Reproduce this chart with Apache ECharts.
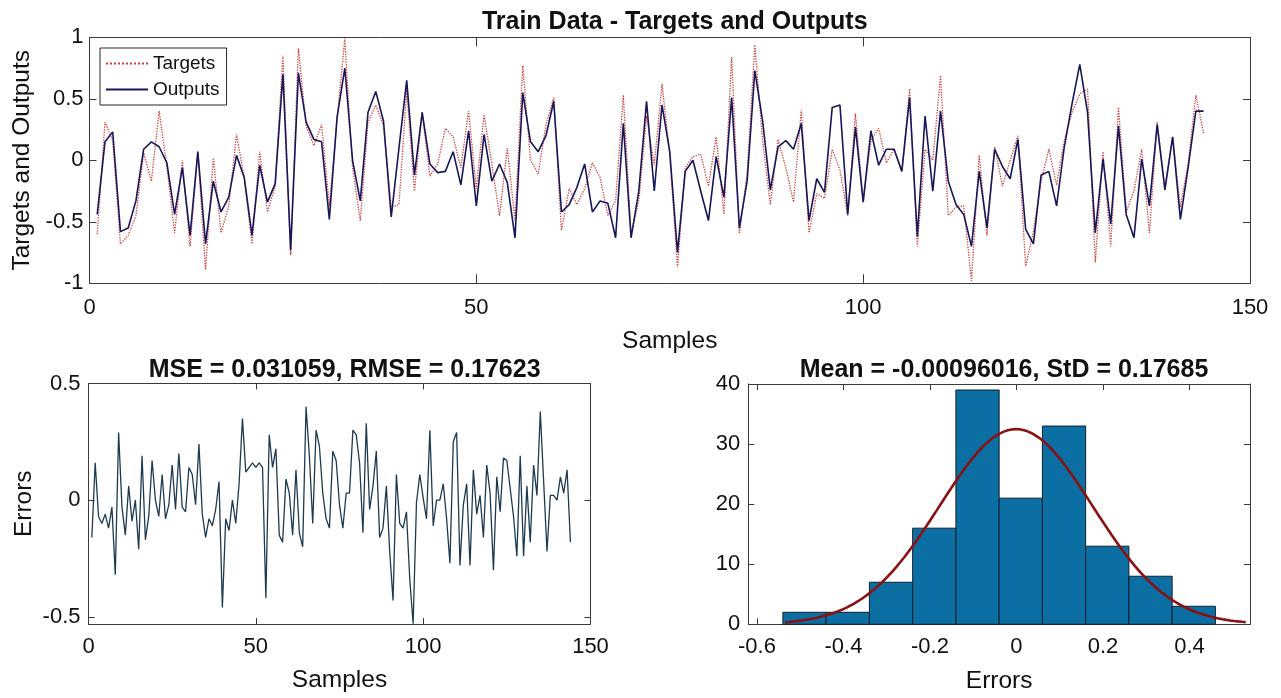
<!DOCTYPE html>
<html>
<head>
<meta charset="utf-8">
<script src="https://cdn.jsdelivr.net/npm/echarts@6/dist/echarts.min.js"></script>
<style>
  html, body { margin: 0; padding: 0; background: #ffffff; }
  #chart { width: 1281px; height: 698px; }
</style>
</head>
<body>
<div id="chart"></div>
<script>
// Network outputs for the 144 training samples
const outputs = [
  -0.44, 0.15, 0.23, -0.58, -0.55, -0.33, 0.09, 0.15, 0.11, -0.02,
  -0.44, -0.06, -0.61, 0.07, -0.68, -0.17, -0.42, -0.30, 0.04, -0.14,
  -0.61, -0.04, -0.34, -0.19, 0.70, -0.73, 0.71, 0.31, 0.17, 0.15,
  -0.48, 0.35, 0.75, 0.00, -0.33, 0.39, 0.56, 0.32, -0.46, 0.10,
  0.65, -0.12, 0.39, -0.03, -0.10, -0.09, 0.07, -0.20, 0.24, -0.37,
  0.21, -0.17, -0.03, -0.18, -0.63, 0.55, 0.15, 0.07, 0.20, 0.48,
  -0.42, -0.36, -0.22, -0.03, -0.42, -0.33, -0.35, -0.63, 0.30, -0.63,
  -0.25, 0.48, -0.25, 0.45, 0.07, -0.75, -0.09, 0.00, -0.25, -0.49,
  0.03, -0.30, 0.51, -0.55, -0.17, 0.73, 0.32, -0.24, 0.11, 0.16,
  0.09, 0.30, -0.49, -0.15, -0.26, 0.43, 0.45, -0.44, 0.27, -0.34,
  0.24, -0.04, 0.09, 0.09, -0.09, 0.51, -0.62, 0.36, -0.25, 0.40,
  -0.17, -0.36, -0.44, -0.70, -0.09, -0.55, 0.09, -0.05, -0.15, 0.17,
  -0.56, -0.68, -0.12, -0.09, -0.37, 0.11, 0.46, 0.78, 0.39, -0.59,
  0.01, -0.52, 0.28, -0.44, -0.63, 0.01, -0.37, 0.29, -0.24, 0.19,
  -0.48, -0.06, 0.40, 0.40
];

// Target values for the same samples
const targets = [
  -0.60, 0.31, 0.16, -0.68, -0.61, -0.45, 0.06, -0.17, 0.40, -0.05,
  -0.59, 0.00, -0.70, 0.07, -0.89, 0.02, -0.59, -0.37, 0.21, -0.14,
  -0.68, 0.07, -0.42, -0.21, 0.85, -0.77, 0.91, 0.28, 0.12, 0.29,
  -0.37, 0.33, 0.99, -0.06, -0.49, 0.31, 0.45, 0.28, -0.38, -0.36,
  0.57, -0.25, 0.39, -0.13, -0.03, 0.26, 0.19, -0.06, 0.40, -0.23,
  0.37, -0.03, -0.45, 0.10, -0.49, 0.77, 0.00, -0.11, 0.29, 0.51,
  -0.57, -0.23, -0.36, -0.23, -0.02, -0.14, -0.45, -0.33, 0.53, -0.60,
  -0.33, 0.36, -0.04, 0.62, 0.05, -0.87, -0.06, 0.03, 0.05, -0.21,
  0.19, -0.44, 0.84, -0.59, -0.11, 0.94, 0.16, -0.36, 0.17, -0.06,
  -0.34, 0.41, -0.59, -0.27, -0.31, 0.09, -0.08, -0.45, 0.38, -0.33,
  0.16, 0.26, -0.02, 0.09, -0.09, 0.58, -0.70, 0.09, 0.00, 0.69,
  -0.45, -0.38, -0.37, -0.98, 0.04, -0.61, 0.11, -0.21, 0.00, 0.20,
  -0.86, -0.58, -0.17, 0.09, -0.20, 0.16, 0.39, 0.54, 0.58, -0.83,
  0.07, -0.70, 0.43, -0.42, -0.25, 0.09, -0.59, 0.31, -0.22, 0.19,
  -0.38, -0.03, 0.53, 0.22
];

// Errors (targets minus outputs) per sample
const errors = [
  -0.16, 0.16, -0.07, -0.10, -0.06, -0.12, -0.03, -0.32, 0.29, -0.03,
  -0.15, 0.06, -0.09, 0.00, -0.21, 0.19, -0.17, -0.07, 0.17, 0.00,
  -0.07, 0.11, -0.08, -0.02, 0.15, -0.04, 0.20, -0.03, -0.05, 0.14,
  0.11, -0.02, 0.24, -0.06, -0.16, -0.08, -0.11, -0.04, 0.08, -0.46,
  -0.08, -0.13, 0.00, -0.10, 0.07, 0.35, 0.12, 0.14, 0.16, 0.14,
  0.16, 0.14, -0.42, 0.28, 0.14, 0.22, -0.15, -0.18, 0.09, 0.03,
  -0.15, 0.13, -0.14, -0.20, 0.40, 0.19, -0.10, 0.30, 0.23, 0.03,
  -0.08, -0.12, 0.21, 0.17, -0.02, -0.12, 0.03, 0.03, 0.30, 0.28,
  0.16, -0.14, 0.33, -0.04, 0.06, 0.21, -0.16, -0.12, 0.06, -0.22,
  -0.43, 0.11, -0.10, -0.12, -0.05, -0.34, -0.53, -0.01, 0.11, 0.01,
  -0.08, 0.30, -0.11, 0.00, 0.00, 0.07, -0.08, -0.27, 0.25, 0.29,
  -0.28, -0.02, 0.07, -0.28, 0.13, -0.06, 0.02, -0.16, 0.15, 0.03,
  -0.30, 0.10, -0.05, 0.18, 0.17, 0.05, -0.07, -0.24, 0.19, -0.24,
  0.06, -0.18, 0.15, 0.02, 0.38, 0.08, -0.22, 0.02, 0.02, 0.00,
  0.10, 0.03, 0.13, -0.18
];

// Error histogram: bin edges and counts
const binEdges = [-0.540, -0.440, -0.340, -0.240, -0.140, -0.040, 0.060, 0.160, 0.260, 0.360, 0.460];
const binCounts = [2, 2, 7, 16, 39, 21, 33, 13, 8, 3];

// Summary statistics shown in the panel titles
const mseText = '0.031059';
const rmseText = '0.17623';
const fitMean = -0.00096016;
const fitStd = 0.17685;

// Tick values
const errYTicks = [-0.5, 0, 0.5];
const histXTicks = [-0.6, -0.4, -0.2, 0, 0.2, 0.4];

const FONT = "'Liberation Sans', Arial, Helvetica, sans-serif";
const AXIS_COLOR = '#3a3a3a';
const TEXT_COLOR = '#111111';

const targetsData = targets.map((v, i) => [i + 1, v]);
const outputsData = outputs.map((v, i) => [i + 1, v]);
const errorsData = errors.map((v, i) => [i + 1, v]);
const histData = binCounts.map((c, k) => [binEdges[k], binEdges[k + 1], c]);

// Normal density scaled to the histogram (count per bin)
const nTotal = binCounts.reduce((a, b) => a + b, 0);
const binWidth = binEdges[1] - binEdges[0];
const fitData = [];
for (let k = 0; k <= 120; k++) {
  const x = -0.535 + (1.065 * k) / 120;
  const z = (x - fitMean) / fitStd;
  fitData.push([x, nTotal * binWidth * Math.exp(-0.5 * z * z) / (fitStd * Math.sqrt(2 * Math.PI))]);
}

function boxAxis(gridIndex, position, extra) {
  return Object.assign({
    gridIndex: gridIndex,
    type: 'value',
    position: position,
    axisLine: { show: true, onZero: false, lineStyle: { color: AXIS_COLOR, width: 1 } },
    axisTick: { show: true, inside: true, length: 6, lineStyle: { color: AXIS_COLOR, width: 1 } },
    axisLabel: { show: false },
    splitLine: { show: false }
  }, extra);
}

function labelStyle(margin) {
  return { show: true, fontSize: 22, fontFamily: FONT, color: TEXT_COLOR, margin: margin };
}

const nameStyle = { fontSize: 24.5, fontFamily: FONT, color: TEXT_COLOR };
const titleStyle = { fontSize: 25, fontWeight: 'bold', fontFamily: FONT, color: TEXT_COLOR };

const option = {
  animation: false,
  backgroundColor: '#ffffff',
  textStyle: { fontFamily: FONT },
  title: [
    { text: 'Train Data - Targets and Outputs', left: 669.75, top: 5, textAlign: 'center', textStyle: titleStyle },
    { text: 'MSE = ' + mseText + ', RMSE = ' + rmseText, left: 339.6, top: 353, textAlign: 'center', textStyle: titleStyle },
    { text: 'Mean = ' + fitMean + ', StD = ' + fitStd, left: 999, top: 353, textAlign: 'center', textStyle: titleStyle }
  ],
  legend: {
    data: ['Targets', 'Outputs'],
    orient: 'vertical',
    left: 100,
    top: 48,
    padding: [6, 7, 6, 5],
    itemGap: 7,
    itemWidth: 42,
    itemHeight: 14,
    itemStyle: { opacity: 0, borderWidth: 0 },
    backgroundColor: '#ffffff',
    borderColor: '#262626',
    borderWidth: 1,
    borderRadius: 0,
    textStyle: { fontSize: 19, fontFamily: FONT, color: TEXT_COLOR }
  },
  grid: [
    { left: 89.5, top: 37.3, width: 1160.5, height: 246, outerBoundsMode: 'none' },
    { left: 88.5, top: 383.5, width: 502, height: 240.5, outerBoundsMode: 'none' },
    { left: 748.3, top: 384, width: 501.7, height: 240.3, outerBoundsMode: 'none' }
  ],
  xAxis: [
    boxAxis(0, 'bottom', { min: 0, max: 150, interval: 50,
      axisTick: { show: true, inside: true, length: 9, lineStyle: { color: AXIS_COLOR } },
      axisLabel: labelStyle(14),
      name: 'Samples', nameLocation: 'middle', nameGap: 45, nameTextStyle: nameStyle }),
    boxAxis(0, 'top', { min: 0, max: 150, interval: 50,
      axisTick: { show: true, inside: true, length: 9, lineStyle: { color: AXIS_COLOR } } }),
    boxAxis(1, 'bottom', { min: 0, max: 150, interval: 50,
      axisLabel: labelStyle(12),
      name: 'Samples', nameLocation: 'middle', nameGap: 44, nameTextStyle: nameStyle }),
    boxAxis(1, 'top', { min: 0, max: 150, interval: 50 }),
    boxAxis(2, 'bottom', { min: -0.62, max: 0.54,
      axisTick: { show: true, inside: true, length: 6, customValues: histXTicks, lineStyle: { color: AXIS_COLOR } },
      axisLabel: Object.assign(labelStyle(12), { customValues: histXTicks }),
      name: 'Errors', nameLocation: 'middle', nameGap: 44, nameTextStyle: nameStyle }),
    boxAxis(2, 'top', { min: -0.62, max: 0.54,
      axisTick: { show: true, inside: true, length: 6, customValues: histXTicks, lineStyle: { color: AXIS_COLOR } } })
  ],
  yAxis: [
    boxAxis(0, 'left', { min: -1, max: 1, interval: 0.5,
      axisTick: { show: true, inside: true, length: 7, lineStyle: { color: AXIS_COLOR } },
      axisLabel: labelStyle(6),
      name: 'Targets and Outputs', nameLocation: 'middle', nameGap: 52, nameTextStyle: nameStyle }),
    boxAxis(0, 'right', { min: -1, max: 1, interval: 0.5,
      axisTick: { show: true, inside: true, length: 7, lineStyle: { color: AXIS_COLOR } } }),
    boxAxis(1, 'left', { min: -0.531, max: 0.5,
      axisTick: { show: true, inside: true, length: 6, customValues: errYTicks, lineStyle: { color: AXIS_COLOR } },
      axisLabel: Object.assign(labelStyle(8), { customValues: errYTicks }),
      name: 'Errors', nameLocation: 'middle', nameGap: 52, nameTextStyle: nameStyle }),
    boxAxis(1, 'right', { min: -0.531, max: 0.5,
      axisTick: { show: true, inside: true, length: 6, customValues: errYTicks, lineStyle: { color: AXIS_COLOR } } }),
    boxAxis(2, 'left', { min: 0, max: 40, interval: 10,
      axisLabel: labelStyle(8) }),
    boxAxis(2, 'right', { min: 0, max: 40, interval: 10 })
  ],
  series: [
    {
      name: 'Targets', type: 'line', xAxisIndex: 0, yAxisIndex: 0,
      data: targetsData, symbol: 'none', z: 2,
      itemStyle: { color: '#d23c3c' },
      lineStyle: { color: '#d23c3c', width: 1.3, type: 'dotted' }
    },
    {
      name: 'Outputs', type: 'line', xAxisIndex: 0, yAxisIndex: 0,
      data: outputsData, symbol: 'none', z: 3,
      itemStyle: { color: '#16165a' },
      lineStyle: { color: '#16165a', width: 1.6 }
    },
    {
      name: 'Errors', type: 'line', xAxisIndex: 2, yAxisIndex: 2,
      data: errorsData, symbol: 'none',
      itemStyle: { color: '#1d3a50' },
      lineStyle: { color: '#1d3a50', width: 1.3 }
    },
    {
      name: 'Histogram', type: 'custom', xAxisIndex: 4, yAxisIndex: 4,
      data: histData,
      encode: { x: [0, 1], y: 2 },
      renderItem: function (params, api) {
        const p0 = api.coord([api.value(0), api.value(2)]);
        const p1 = api.coord([api.value(1), 0]);
        return {
          type: 'rect',
          shape: { x: p0[0], y: p0[1], width: p1[0] - p0[0], height: p1[1] - p0[1] },
          style: { fill: '#0b6fa4', stroke: '#14202a', lineWidth: 1 }
        };
      },
      z: 2
    },
    {
      name: 'Normal fit', type: 'line', xAxisIndex: 4, yAxisIndex: 4,
      data: fitData, symbol: 'none', z: 4,
      itemStyle: { color: '#8a1111' },
      lineStyle: { color: '#8a1111', width: 2.6 }
    }
  ]
};

const chart = echarts.init(document.getElementById('chart'), null, { renderer: 'canvas' });
chart.setOption(option);
</script>
</body>
</html>
